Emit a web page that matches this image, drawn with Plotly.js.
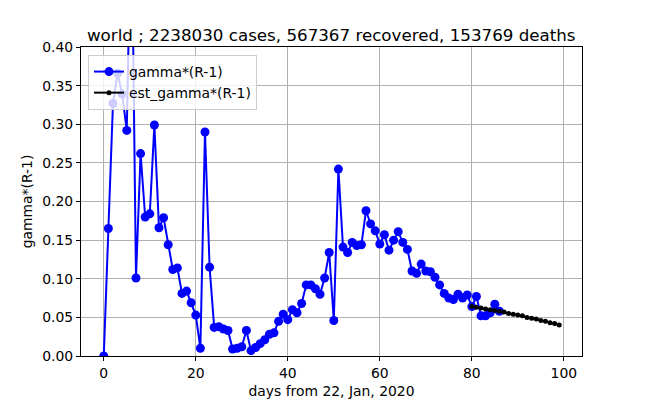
<!DOCTYPE html>
<html>
<head>
<meta charset="utf-8">
<script src="https://cdn.plot.ly/plotly-3.0.1.min.js"></script>
<style>
  html, body { margin: 0; padding: 0; background: #fff; }
  #chart { width: 647px; height: 400px; }
</style>
</head>
<body>
<div id="chart"></div>
<script>
// observed gamma*(R-1), days 0..86 from 22 Jan 2020
const DAYS = Array.from({length: 87}, (_, i) => i);
const GAMMA = [
  0.000, 0.165, 0.327, 0.366, 0.339, 0.292, 0.600, 0.101, 0.262, 0.180,
  0.184, 0.299, 0.166, 0.179, 0.144, 0.112, 0.114, 0.081, 0.084, 0.069,
  0.053, 0.010, 0.290, 0.115, 0.037, 0.038, 0.035, 0.033, 0.009, 0.010,
  0.012, 0.033, 0.007, 0.011, 0.016, 0.021, 0.028, 0.030, 0.045, 0.054,
  0.047, 0.060, 0.056, 0.068, 0.092, 0.092, 0.087, 0.080, 0.101, 0.134,
  0.046, 0.242, 0.141, 0.134, 0.147, 0.143, 0.144, 0.188, 0.171, 0.162,
  0.145, 0.157, 0.137, 0.150, 0.161, 0.147, 0.138, 0.110, 0.107, 0.119,
  0.110, 0.109, 0.102, 0.092, 0.081, 0.075, 0.073, 0.080, 0.075, 0.079,
  0.064, 0.077, 0.052, 0.052, 0.056, 0.067, 0.058
];

// estimated continuation, days 80..99
const EST_DAYS = Array.from({length: 20}, (_, i) => 80 + i);
const EST_GAMMA = [
  0.064, 0.063, 0.062, 0.061, 0.060, 0.059, 0.058, 0.057, 0.055, 0.054,
  0.053, 0.052, 0.050, 0.049, 0.048, 0.046, 0.045, 0.043, 0.042, 0.040
];

const TITLE = 'world ; 2238030 cases, 567367 recovered, 153769 deaths';
const FONT = 'DejaVu Sans, sans-serif';

const traces = [
  {
    type: 'scatter', mode: 'lines+markers',
    name: 'gamma*(R-1)',
    x: DAYS, y: GAMMA,
    line: { color: '#0000ff', width: 2 },
    marker: { color: '#0000ff', size: 9 },
    cliponaxis: true,
  },
  {
    type: 'scatter', mode: 'lines+markers',
    name: 'est_gamma*(R-1)',
    x: EST_DAYS, y: EST_GAMMA,
    line: { color: '#000000', width: 2 },
    marker: { color: '#000000', size: 5 },
    cliponaxis: true,
  },
];

const axisBase = {
  showline: true, mirror: true, linecolor: '#000', linewidth: 1,
  ticks: 'outside', ticklen: 4, tickcolor: '#000',
  showgrid: true, gridcolor: '#b0b0b0', gridwidth: 1,
  zeroline: false,
  tickfont: { family: FONT, size: 13.9, color: '#000' },
};

const layout = {
  width: 647, height: 400,
  margin: { l: 81, r: 65, t: 47, b: 44 },
  paper_bgcolor: '#fff', plot_bgcolor: '#fff',
  font: { family: FONT, color: '#000' },
  title: {
    text: TITLE,
    font: { family: FONT, size: 16.7, color: '#000' },
    x: 0.512, xanchor: 'center', y: 0.912, yanchor: 'middle',
  },
  xaxis: {
    ...axisBase,
    range: [-4.95, 103.95],
    tickvals: [0, 20, 40, 60, 80, 100],
    title: { text: 'days from 22, Jan, 2020', font: { family: FONT, size: 13.9 }, standoff: 6 },
  },
  yaxis: {
    ...axisBase,
    range: [0, 0.4],
    dtick: 0.05, tickformat: '.2f',
    title: { text: 'gamma*(R-1)', font: { family: FONT, size: 13.9 }, standoff: 6 },
  },
  showlegend: true,
  legend: {
    x: 0.014, y: 0.974, xanchor: 'left', yanchor: 'top',
    bgcolor: 'rgba(255,255,255,0.8)',
    bordercolor: '#cccccc', borderwidth: 1,
    font: { family: FONT, size: 13.9, color: '#000' },
    tracegroupgap: 2,
  },
};

Plotly.newPlot('chart', traces, layout, { displayModeBar: false, staticPlot: true });
</script>
</body>
</html>
